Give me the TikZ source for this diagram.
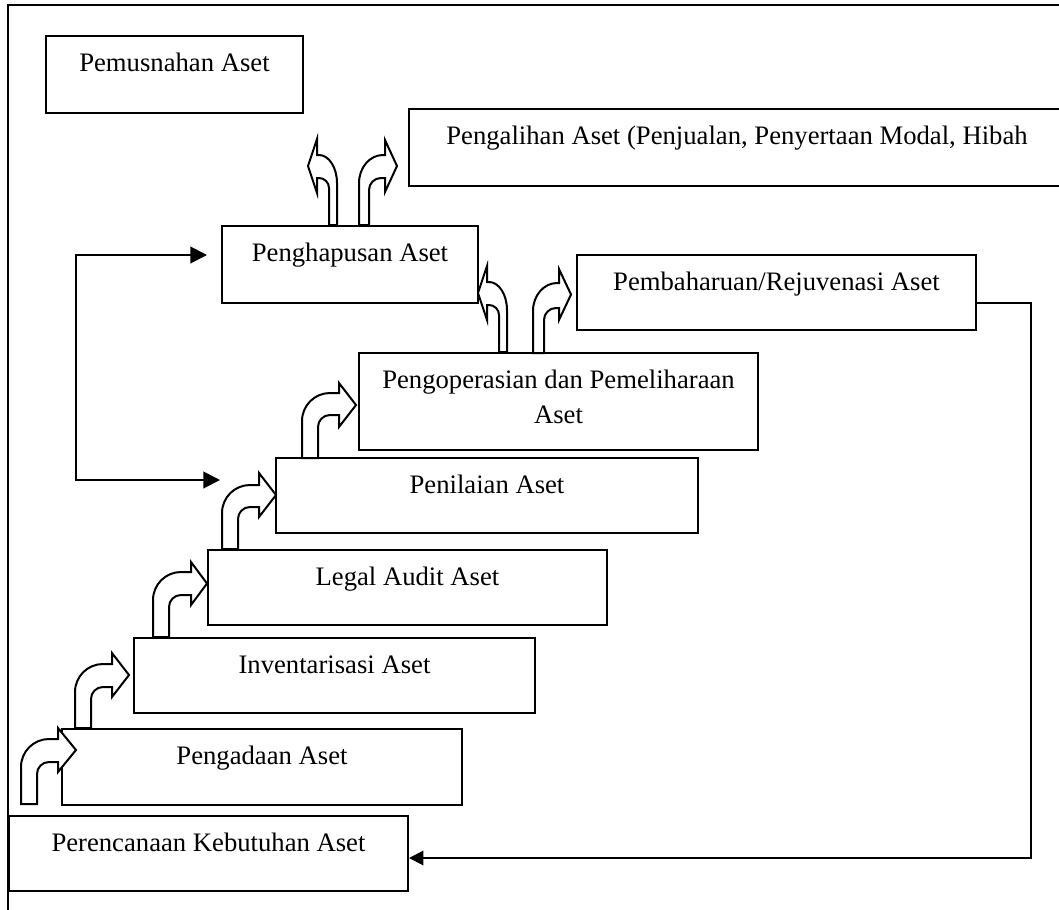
\documentclass[tikz,border=0pt]{standalone}
\usepackage{fontspec}
\setmainfont{Liberation Serif}
\usepackage{tikz}
\usetikzlibrary{calc,arrows.meta}

% one pixel of the layout
\newcommand{\px}{0.45pt}

% bent block arrow: outer shaft x, inner shaft x, foot y, outer top y, inner top y,
% head base x, upper barb y, lower barb y, tip x
\newcommand{\bentarrow}[9]{%
  \pgfmathsetmacro{\bsign}{sign(#6-#1)}%
  \pgfmathsetmacro{\bro}{min(28,abs(#6-#1)-2)}%
  \pgfmathsetmacro{\bri}{min(12,abs(#6-#2)-2)}%
  \draw[bent] (#1,#3) -- ({#1},{#4+28})
    .. controls ({#1},{#4+12.5}) and ({#1+\bsign*0.45*\bro},{#4}) .. ({#1+\bsign*\bro},{#4})
    -- (#6,#4) -- (#6,#7) -- ({#9},{(#7+#8)/2}) -- (#6,#8) -- (#6,#5)
    -- ({#2+\bsign*\bri},{#5})
    .. controls ({#2+\bsign*0.45*\bri},{#5}) and ({#2},{#5+0.45*\bri}) .. ({#2},{#5+\bri})
    -- (#2,#3) -- cycle;
}

\tikzset{
  box/.style 2 args={draw, line width=0.9pt, anchor=north west, inner sep=0pt,
    align=center, font=\fontsize{12pt}{15.75pt}\selectfont,
    minimum width=#1*\px, minimum height=#2*\px,
    text height=35*\px, text depth=(#2-35)*\px},
  bent/.style={fill=white, line width=0.9pt, line join=miter},
  flow/.style={line width=0.9pt, -{Triangle[length=6.5pt,width=6.5pt]}},
  both/.style={line width=0.9pt,
    {Triangle[length=7.5pt,width=7.5pt]}-{Triangle[length=7.5pt,width=7.5pt]}},
}

\begin{document}
\begin{tikzpicture}[x=\px, y=-\px]
  \useasboundingbox (0,0) rectangle (1059,910);

  % frame
  \draw[line width=0.9pt] (8,930) -- (8,5) -- (1080,5);

  \node[box={257}{77}] (musnah) at (45,35) {Pemusnahan Aset};
  \node[box={656}{77}] (alih) at (408,108) {Pengalihan Aset (Penjualan, Penyertaan Modal, Hibah};
  \node[box={256}{77}] (hapus) at (221,225) {Penghapusan Aset};
  \node[box={399}{75}] (baharu) at (576,254) {Pembaharuan/Rejuvenasi Aset};
  \node[box={399}{97}, text height=70*\px, text depth=27*\px] (operasi) at (358,352)
    {Pengoperasian dan Pemeliharaan\\Aset};
  \node[box={422}{75}] (nilai) at (275,457) {Penilaian Aset};
  \node[box={399}{75}] (legal) at (207,549) {Legal Audit Aset};
  \node[box={401}{75}] (inventaris) at (133,637) {Inventarisasi Aset};
  \node[box={400}{76}] (adaan) at (61,728) {Pengadaan Aset};
  \node[box={399}{75}] (rencana) at (8,815) {Perencanaan Kebutuhan Aset};

  % steps up
  \bentarrow{21}{37}{804}{739}{762}{58}{728}{772}{76}
  \bentarrow{75}{91}{728}{664}{687}{112}{653}{697}{129}
  \bentarrow{153}{169}{637}{572}{595}{191}{562}{605}{207}
  \bentarrow{222}{238}{549}{485}{507}{259}{473}{517}{276}
  \bentarrow{302}{318}{458}{393}{415}{339}{383}{427}{356}
  \bentarrow{507}{499}{352}{282}{305}{487}{266}{320}{478}
  \bentarrow{533}{544}{353}{283}{308}{559}{269}{320}{571}
  \bentarrow{337}{329}{225}{155}{178}{317}{139}{193}{308}
  \bentarrow{359}{369}{225}{155}{178}{385}{140}{192}{397}

  % loops
  \coordinate (tohapus) at ($(hapus.west)+(-14,-9.5)$);
  \coordinate (tonilai) at ($(nilai.west)+(-55,-15.5)$);
  \coordinate (rail) at (76,0);
  \draw[both] (tohapus) -| (tonilai -| rail) -- (tonilai);

  \coordinate (turn) at (1031,858);
  \draw[flow] ($(baharu.east)+(0,10.5)$) -| (turn) -- (rencana.east |- turn);
\end{tikzpicture}
\end{document}
